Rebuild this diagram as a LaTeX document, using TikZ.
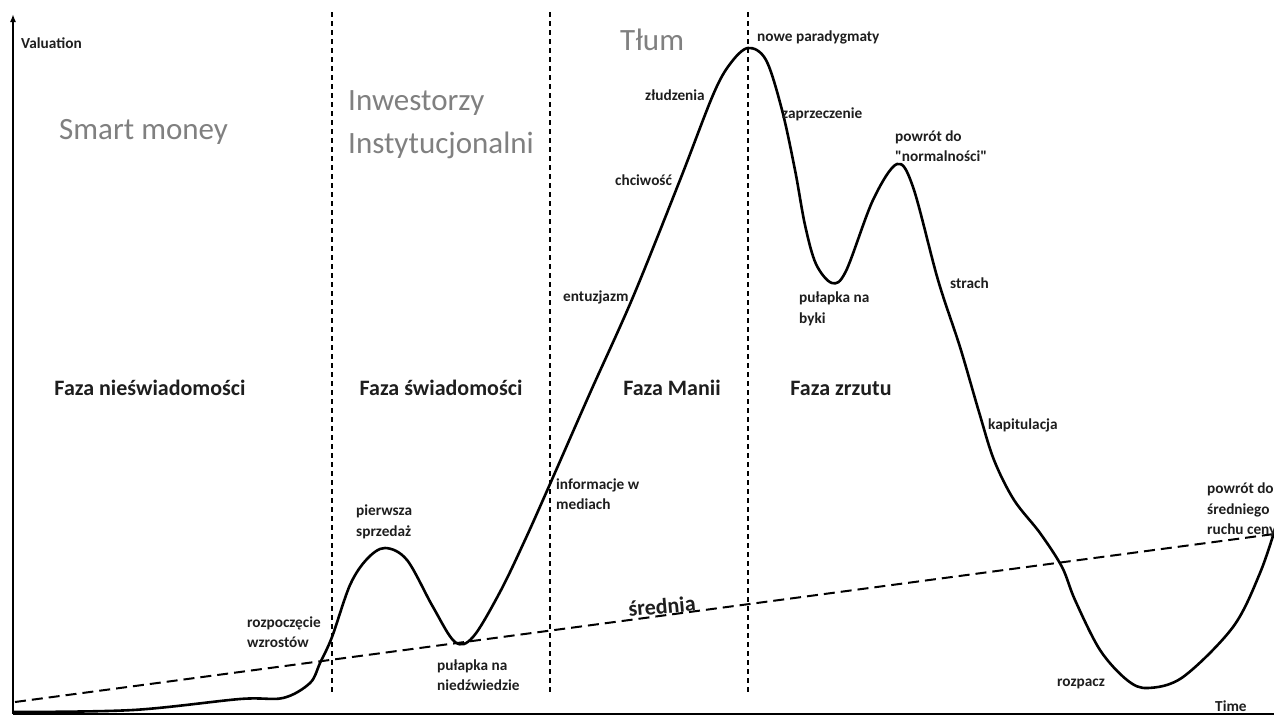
\documentclass[tikz,border=0pt]{standalone}
\usepackage{fontspec}
\setmainfont{Carlito}
\usetikzlibrary{arrows.meta}
\definecolor{lblc}{HTML}{1E1E1E}
\definecolor{hdrc}{HTML}{808080}
\tikzset{
  lbl/.style={font=\bfseries\fontsize{15.3}{20.5}\selectfont, text=lblc, inner sep=0pt, align=left, anchor=west},
  phase/.style={font=\bfseries\fontsize{22}{26}\selectfont, text=lblc, inner sep=0pt},
  hdr/.style={font=\fontsize{31}{41}\selectfont, text=hdrc, inner sep=0pt, anchor=west},
  divider/.style={line width=1.8pt, dash pattern=on 5pt off 4pt, black},
  avgline/.style={line width=2pt, dash pattern=on 11pt off 6pt, black},
  curve/.style={line width=2.6pt, black, line cap=round, line join=round},
  axis/.style={line width=2pt, black}
}
\begin{document}
\begin{tikzpicture}[x=1pt, y=-1pt]
\useasboundingbox (0,0) rectangle (1274,715);
\fill[white] (0,0) rectangle (1274,715);

% axes
\coordinate (o) at (13,713.5);
\coordinate (ytop) at (13,14);
\coordinate (xend) at (1274,713.5);
\draw[axis, -{Latex[length=8pt,width=6pt]}] (o) -- (ytop);
\draw[axis] (o) -- (xend);

% phase dividers
\coordinate (d1t) at (332,12); \coordinate (d1b) at (332,694);
\coordinate (d2t) at (550,12); \coordinate (d2b) at (550,694);
\coordinate (d3t) at (748,12); \coordinate (d3b) at (748,694);
\draw[divider] (d1t) -- (d1b);
\draw[divider] (d2t) -- (d2b);
\draw[divider] (d3t) -- (d3b);

% average line
\coordinate (a1) at (15,702);
\coordinate (a2) at (1274,534);
\draw[avgline] (a1) -- (a2);

% price curve
\draw[curve] plot[smooth, tension=0.55] coordinates {
 (14,712) (133,710) (240,699) (283,698) (310,683) (320,663) (332,637)
 (350,585) (367,559) (385,548) (407,560) (433,607) (455,642) (473,637)
 (500,592) (525,540) (550,484) (590,393) (633,297) (680,180) (713,95)
 (730,64) (748,48) (766,60) (782,110) (795,170) (805,225) (816,264)
 (832,283) (846,271) (873,200) (897,164) (913,187) (938,280) (960,347)
 (979,412) (994,460) (1014,500) (1040,533) (1062,567) (1075,600)
 (1100,650) (1127,680) (1148,688) (1183,677) (1233,627) (1260,573) (1276,526)
};

% headers
\node[hdr] (smart) at (59,132) {Smart money};
\node[hdr] (inw) at (348,103) {Inwestorzy};
\node[hdr] (inst) at (348,145) {Instytucjonalni};
\node[hdr] (tlum) at (620,40) {Tłum};

% phases
\node[phase] (f1) at (150,388) {Faza nieświadomości};
\node[phase] (f2) at (441,388) {Faza świadomości};
\node[phase] (f3) at (672,388) {Faza Manii};
\node[phase] (f4) at (841,388) {Faza zrzutu};
\node[phase, rotate=5] (sr) at (662,606) {średnia};

% labels
\node[lbl] (val) at (21,43) {Valuation};
\node[lbl] (time) at (1215,706) {Time};
\node[lbl] (np) at (757,37) {nowe paradygmaty};
\node[lbl] (zl) at (645,95) {złudzenia};
\node[lbl] (zap) at (782,114) {zaprzeczenie};
\node[lbl] (pow1) at (895,146) {powrót do\\\textquotedbl normalności\textquotedbl};
\node[lbl] (chc) at (615,180) {chciwość};
\node[lbl] (ent) at (563,297) {entuzjazm};
\node[lbl] (byk) at (799,309) {pułapka na\\byki};
\node[lbl] (str) at (950,283) {strach};
\node[lbl] (kap) at (988,425) {kapitulacja};
\node[lbl] (inf) at (556,494) {informacje w\\mediach};
\node[lbl] (pie) at (356,522) {pierwsza\\sprzedaż};
\node[lbl] (roz) at (247,632) {rozpoczęcie\\wzrostów};
\node[lbl] (nie) at (437,675) {pułapka na\\niedźwiedzie};
\node[lbl] (pow2) at (1207,510) {powrót do\\średniego\\ruchu ceny};
\node[lbl] (rozp) at (1057,684) {rozpacz};
\end{tikzpicture}
\end{document}
